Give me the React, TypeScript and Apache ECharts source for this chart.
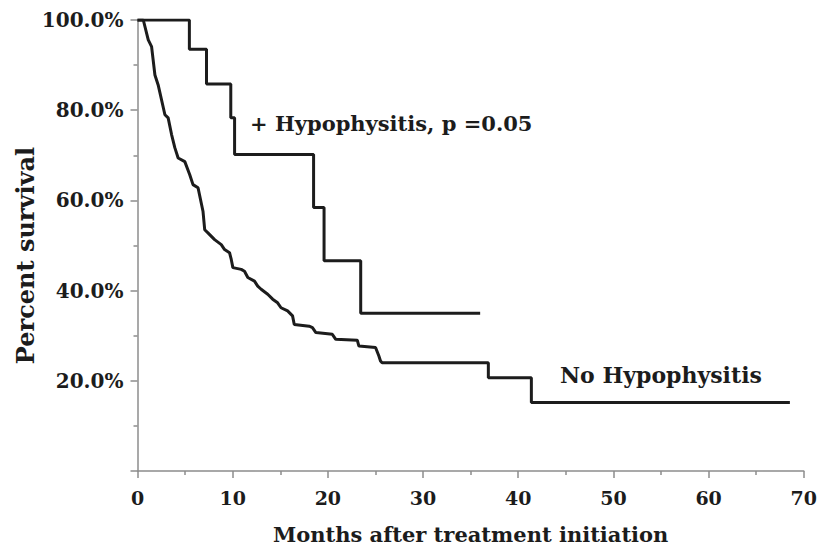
import React, { useEffect, useRef } from "react";
import * as echarts from "echarts";

// + Hypophysitis group (Kaplan-Meier steps)
const hypTimes = [0, 5.45, 7.25, 9.8, 10.2, 18.5, 19.6, 23.45, 36.0];
const hypSurvival = [100, 93.5, 85.8, 78.3, 70.2, 58.4, 46.6, 35.0, 35.0];

// No Hypophysitis group (traced outline of the curve)
const noHypTimes = [
  0, 0.61, 1.13, 1.48, 1.83, 2.17, 2.88, 3.22, 3.58, 3.92, 4.27, 4.97, 5.49, 5.83,
  6.36, 6.88, 7.06, 7.4, 8.1, 8.8, 9.15, 9.67, 9.85, 10.02, 10.9, 11.24, 11.59,
  12.29, 12.63, 12.99, 13.68, 14.2, 14.72, 15.08, 15.77, 16.29, 16.47, 18.04,
  18.38, 18.74, 20.47, 20.83, 23.09, 23.26, 25.01, 25.36, 25.53, 25.7, 36.86,
  36.86, 41.38, 41.38, 68.54,
];
const noHypSurvival = [
  100, 100, 95.6, 94.1, 87.8, 85.6, 79.0, 78.3, 74.6, 71.7, 69.4, 68.6, 65.7, 63.5,
  62.8, 57.6, 53.5, 52.8, 51.3, 50.2, 49.1, 48.4, 46.9, 45.1, 44.7, 44.3, 42.9,
  42.1, 41.0, 40.3, 39.2, 38.1, 37.3, 36.2, 35.5, 34.4, 32.5, 32.1,
  31.8, 30.7, 30.3, 29.2, 29.0, 27.7, 27.4, 25.5, 24.4, 24.0, 24.0,
  20.7, 20.7, 15.2, 15.2,
];

const xTicks = { min: 0, max: 70, interval: 10 };
const yTicks = { min: 0, max: 100, interval: 20 };

const labelHyp = "+ Hypophysitis, p =0.05";
const labelNoHyp = "No Hypophysitis";
const xTitle = "Months after treatment initiation";
const yTitle = "Percent survival";

const FONT = "'DejaVu Serif', 'Liberation Serif', serif";
const INK = "#1c1c1c";
const AXIS = "#8c8c8c";

export default function App() {
  const ref = useRef<HTMLDivElement>(null);

  useEffect(() => {
    document.body.style.margin = "0";
    if (!ref.current) return;
    const chart = echarts.init(ref.current, null, { renderer: "svg" });

    const hypData = hypTimes.map((t, i) => [t, hypSurvival[i]]);
    const noHypData = noHypTimes.map((t, i) => [t, noHypSurvival[i]]);

    const axisCommon = {
      axisLine: { show: true, lineStyle: { color: AXIS, width: 1.5 } },
      axisTick: { show: true, length: 7, lineStyle: { color: AXIS, width: 1.5 } },
      minorTick: { show: true, splitNumber: 2, length: 4, lineStyle: { color: AXIS, width: 1.5 } },
      splitLine: { show: false },
      minorSplitLine: { show: false },
    };

    chart.setOption({
      animation: false,
      backgroundColor: "#ffffff",
      grid: { left: 137.5, right: 13, top: 20, bottom: 78, containLabel: false },
      xAxis: {
        type: "value",
        ...xTicks,
        ...axisCommon,
        axisLabel: {
          margin: 17,
          color: INK,
          fontFamily: FONT,
          fontWeight: "bold",
          fontSize: 19,
        },
        name: xTitle,
        nameLocation: "middle",
        nameGap: 53,
        nameMoveOverlap: false,
        nameTextStyle: { color: INK, fontFamily: FONT, fontWeight: "bold", fontSize: 21 },
      },
      yAxis: {
        type: "value",
        ...yTicks,
        ...axisCommon,
        axisLabel: {
          margin: 14,
          color: INK,
          fontFamily: FONT,
          fontWeight: "bold",
          fontSize: 20,
          formatter: (v: number) => (v === 0 ? "" : v.toFixed(1) + "%"),
        },
        name: yTitle,
        nameLocation: "middle",
        nameGap: 100,
        nameMoveOverlap: false,
        nameTextStyle: {
          color: INK,
          fontFamily: FONT,
          fontWeight: "bold",
          fontSize: 24,
          padding: [0, 20, 0, 0],
        },
      },
      series: [
        {
          type: "line",
          name: "Hypophysitis",
          data: hypData,
          step: "end",
          showSymbol: false,
          symbol: "none",
          lineStyle: { color: INK, width: 3 },
        },
        {
          type: "line",
          name: "No Hypophysitis",
          data: noHypData,
          showSymbol: false,
          symbol: "none",
          lineStyle: { color: INK, width: 3 },
        },
      ],
      graphic: [
        {
          type: "text",
          x: 250,
          y: 123,
          style: {
            text: labelHyp,
            fill: INK,
            font: `bold 21px ${FONT}`,
            textVerticalAlign: "middle",
            verticalAlign: "middle",
          },
        },
        {
          type: "text",
          x: 560,
          y: 375,
          style: {
            text: labelNoHyp,
            fill: INK,
            font: `bold 22px ${FONT}`,
            textVerticalAlign: "middle",
            verticalAlign: "middle",
          },
        },
      ],
    });

    return () => chart.dispose();
  }, []);

  return <div ref={ref} style={{ width: 820, height: 550 }} />;
}
